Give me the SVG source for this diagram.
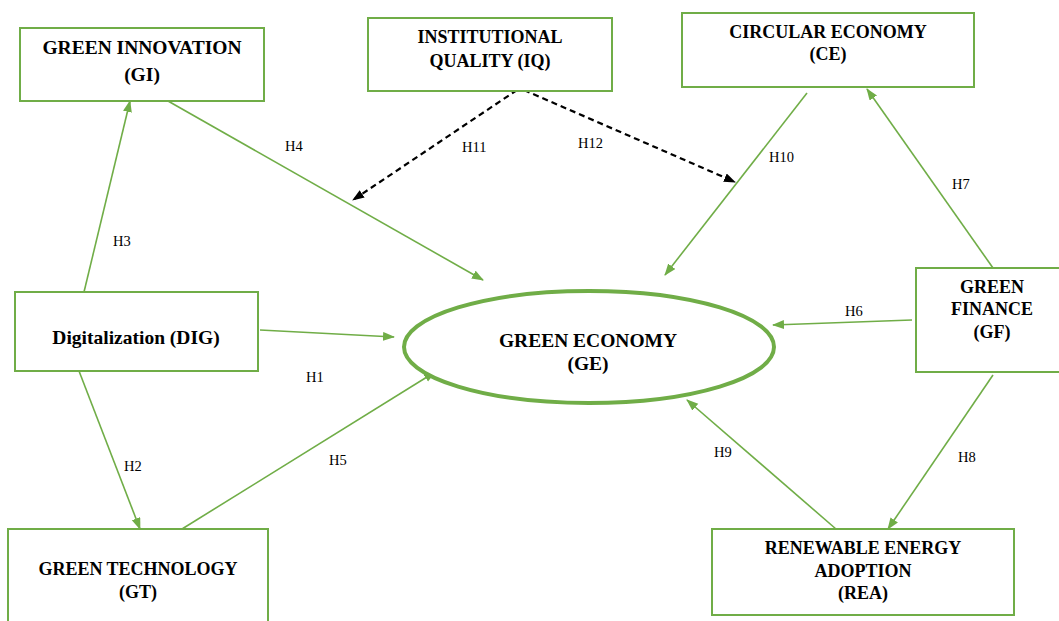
<svg xmlns="http://www.w3.org/2000/svg" width="1059" height="621" viewBox="0 0 1059 621">
<style>
.box{fill:#fff;stroke:#70AD47;stroke-width:2}
.t{font-family:"Times New Roman","Liberation Serif","DejaVu Serif",serif;font-weight:bold;font-size:18px;fill:#000;text-anchor:middle}
.big{font-size:19.5px}
.lbl{font-family:"Times New Roman","Liberation Serif","DejaVu Serif",serif;font-size:14.5px;fill:#000}
.c{stroke:#70AD47;stroke-width:1.6;fill:none;marker-end:url(#ag)}
.d{stroke:#000;stroke-width:2.2;fill:none;stroke-dasharray:6 4;marker-end:url(#ab)}
</style>
<defs>
<marker id="ag" markerUnits="userSpaceOnUse" markerWidth="12" markerHeight="10" refX="11" refY="4.5" orient="auto"><path d="M0,0 L12,4.5 L0,9 z" fill="#70AD47"/></marker>
<marker id="ab" markerUnits="userSpaceOnUse" markerWidth="12" markerHeight="10" refX="11" refY="4.5" orient="auto"><path d="M0,0 L12,4.5 L0,9 z" fill="#000"/></marker>
</defs>
<rect width="1059" height="621" fill="#fff"/>
<g id="connectors">
<line class="c" x1="84" y1="292" x2="130" y2="101"/>
<line class="c" x1="168" y1="101" x2="483" y2="280"/>
<line class="c" x1="260" y1="330" x2="394" y2="337"/>
<line class="c" x1="79" y1="371" x2="140" y2="529"/>
<line class="c" x1="182" y1="529" x2="435" y2="372"/>
<line class="c" x1="807" y1="93" x2="665" y2="275"/>
<line class="c" x1="993" y1="268" x2="867" y2="89"/>
<line class="c" x1="912" y1="320" x2="773" y2="325"/>
<line class="c" x1="993" y1="375" x2="888" y2="529"/>
<line class="c" x1="836" y1="529" x2="687" y2="400"/>
<line class="d" x1="517" y1="90" x2="353" y2="200"/>
<line class="d" x1="524" y1="90" x2="735" y2="182"/>
<text class="lbl" x="113" y="246">H3</text>
<text class="lbl" x="285" y="151">H4</text>
<text class="lbl" x="306" y="382">H1</text>
<text class="lbl" x="124" y="471">H2</text>
<text class="lbl" x="329" y="465">H5</text>
<text class="lbl" x="462" y="152">H11</text>
<text class="lbl" x="578" y="148">H12</text>
<text class="lbl" x="769" y="162">H10</text>
<text class="lbl" x="952" y="189">H7</text>
<text class="lbl" x="845" y="316">H6</text>
<text class="lbl" x="958" y="462">H8</text>
<text class="lbl" x="714" y="457">H9</text>
</g>
<g id="GI">
<rect class="box" x="20" y="28" width="244" height="73"/>
<text class="t big" x="142" y="54">GREEN INNOVATION</text>
<text class="t big" x="142" y="81">(GI)</text>
</g>
<g id="IQ">
<rect class="box" x="368" y="18" width="244" height="73"/>
<text class="t" x="490" y="43">INSTITUTIONAL</text>
<text class="t" x="490" y="67">QUALITY (IQ)</text>
</g>
<g id="CE">
<rect class="box" x="682" y="13" width="292" height="74"/>
<text class="t" x="828" y="38">CIRCULAR ECONOMY</text>
<text class="t" x="828" y="60">(CE)</text>
</g>
<g id="DIG">
<rect class="box" x="15" y="292" width="243" height="79"/>
<text class="t big" x="136" y="344">Digitalization (DIG)</text>
</g>
<g id="GE">
<ellipse cx="589" cy="347" rx="185" ry="56" fill="#fff" stroke="#70AD47" stroke-width="4"/>
<text class="t big" x="588" y="347">GREEN ECONOMY</text>
<text class="t big" x="588" y="370">(GE)</text>
</g>
<g id="GF">
<rect class="box" x="916" y="268" width="154" height="104"/>
<text class="t" x="992" y="293">GREEN</text>
<text class="t" x="992" y="315">FINANCE</text>
<text class="t" x="992" y="338">(GF)</text>
</g>
<g id="GT">
<rect class="box" x="8" y="529" width="260" height="110"/>
<text class="t" x="138" y="575">GREEN TECHNOLOGY</text>
<text class="t" x="138" y="598">(GT)</text>
</g>
<g id="REA">
<rect class="box" x="712" y="529" width="302" height="86"/>
<text class="t" x="863" y="554">RENEWABLE ENERGY</text>
<text class="t" x="863" y="577">ADOPTION</text>
<text class="t" x="863" y="599">(REA)</text>
</g>
</svg>
